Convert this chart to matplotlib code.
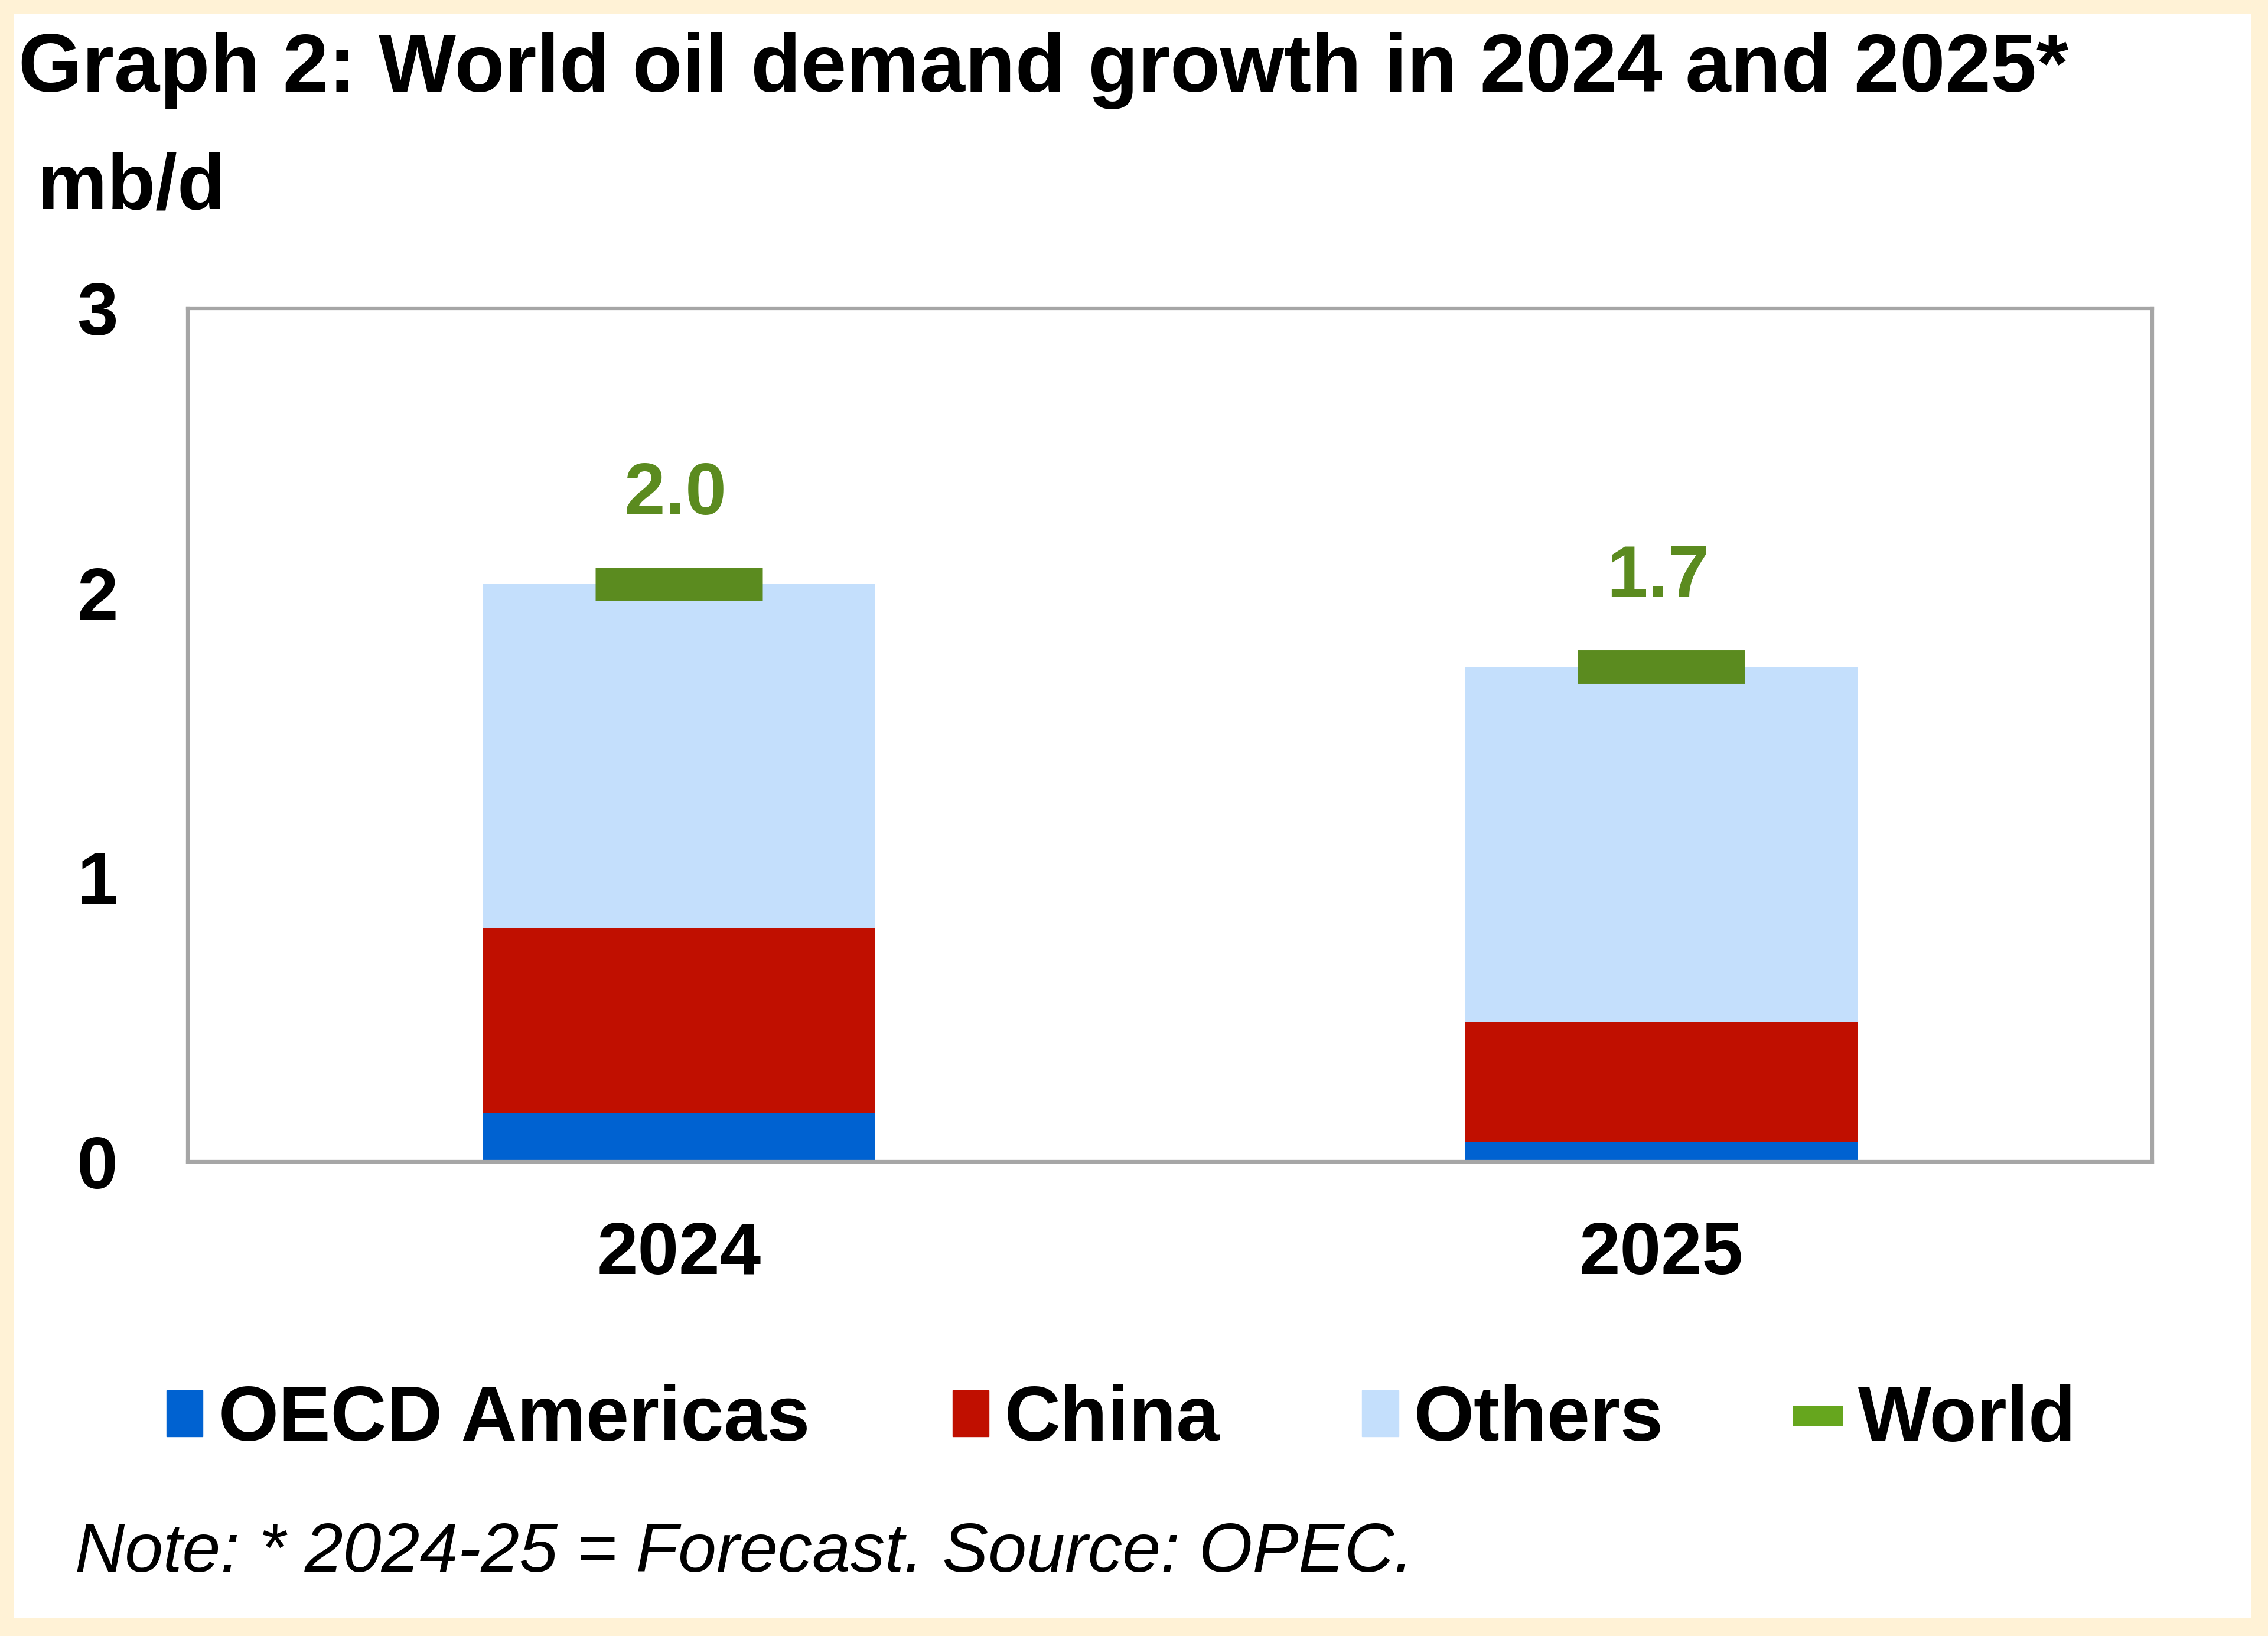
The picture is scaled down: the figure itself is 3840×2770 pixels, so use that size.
import matplotlib
matplotlib.use("Agg")
import matplotlib.pyplot as plt
from matplotlib.patches import Patch, Rectangle
from matplotlib.lines import Line2D
from matplotlib.legend_handler import HandlerPatch
import numpy as np

# ---- data ----
years = ["2024", "2025"]
oecd_americas = [0.17, 0.07]
china = [0.65, 0.42]
others = [1.21, 1.25]
world = [2.03, 1.74]
series_names = ["OECD Americas", "China", "Others", "World"]
y_ticks = [0, 1, 2, 3]

# ---- style ----
C_OECD = "#0062D1"
C_CHINA = "#C00F00"
C_OTHERS = "#C4DFFC"
C_WORLD = "#5B8B1F"
C_WORLD_LEG = "#66A61E"
C_BG = "#FFF2D6"
FONT = "Liberation Sans"
plt.rcParams["font.family"] = [FONT, "DejaVu Sans"]

W, H = 3840, 2770
DPI = 100
fig = plt.figure(figsize=(W / DPI, H / DPI), dpi=DPI)
fig.patch.set_facecolor(C_BG)
fig.add_artist(Rectangle((24 / W, 1 - 2740 / H), (3812 - 24) / W, (2740 - 23) / H,
                         transform=fig.transFigure, facecolor="white",
                         edgecolor="none", zorder=-10))

ax = fig.add_axes([318 / W, 1 - 1967 / H, (3644 - 318) / W, (1967 - 522) / H])
ax.set_facecolor("white")

x = np.arange(len(years))
bw = 0.40
b1 = np.array(oecd_americas)
b2 = b1 + np.array(china)
ax.bar(x, oecd_americas, bw, color=C_OECD, zorder=2)
ax.bar(x, china, bw, bottom=b1, color=C_CHINA, zorder=2)
ax.bar(x, others, bw, bottom=b2, color=C_OTHERS, zorder=2)
ax.hlines(world, x - 0.085, x + 0.085, colors=C_WORLD, linewidth=41,
          capstyle="butt", zorder=3)
for xi, v in zip(x, world):
    ax.annotate(f"{v:.1f}", (xi, v), xytext=(-4, 108), textcoords="offset points",
                ha="center", va="center", fontsize=90, fontweight="bold",
                color=C_WORLD, family=FONT)

ax.set_xlim(-0.5, 1.5)
ax.set_ylim(0, 3)
ax.set_yticks(y_ticks)
ax.set_yticklabels([str(t) for t in y_ticks])
ax.set_xticks(x)
ax.set_xticklabels(years)
ax.tick_params(axis="both", length=0, labelsize=90)
ax.tick_params(axis="y", pad=85)
ax.tick_params(axis="x", pad=72)
for lab in ax.get_xticklabels() + ax.get_yticklabels():
    lab.set_fontweight("bold")
for s in ax.spines.values():
    s.set_color("#A6A6A6")
    s.set_linewidth(4.5)

# ---- texts ----
fig.text(31 / W, 1 - 155 / H, "Graph 2: World oil demand growth in 2024 and 2025*",
         fontsize=100, fontweight="bold", ha="left", va="baseline")
fig.text(63 / W, 1 - 354 / H, "mb/d", fontsize=96, fontweight="bold",
         ha="left", va="baseline")
fig.text(127 / W, 1 - 2661 / H, "Note: * 2024-25 = Forecast. Source: OPEC.",
         fontsize=84, fontstyle="italic", ha="left", va="baseline")

# ---- legend ----
def narrow_patch(legend, orig_handle, xdescent, ydescent, width, height, fontsize):
    w = width * 0.72
    return Rectangle((-xdescent + width - w, -ydescent), w, height)

handles = [Patch(color=C_OECD), Patch(color=C_CHINA), Patch(color=C_OTHERS),
           Line2D([], [], color=C_WORLD_LEG, linewidth=25, solid_capstyle="butt")]
leg = fig.legend(handles, series_names, loc="center left",
                 bbox_to_anchor=(258 / W, 1 - 2405 / H), ncol=4, frameon=False,
                 prop={"family": FONT, "weight": "bold", "size": 94.5},
                 handlelength=0.65, handleheight=0.54, handletextpad=0.2,
                 columnspacing=1.66, borderpad=0, borderaxespad=0,
                 handler_map={Patch: HandlerPatch(patch_func=narrow_patch)})

fig.savefig("out.png", dpi=DPI, facecolor=fig.get_facecolor())
